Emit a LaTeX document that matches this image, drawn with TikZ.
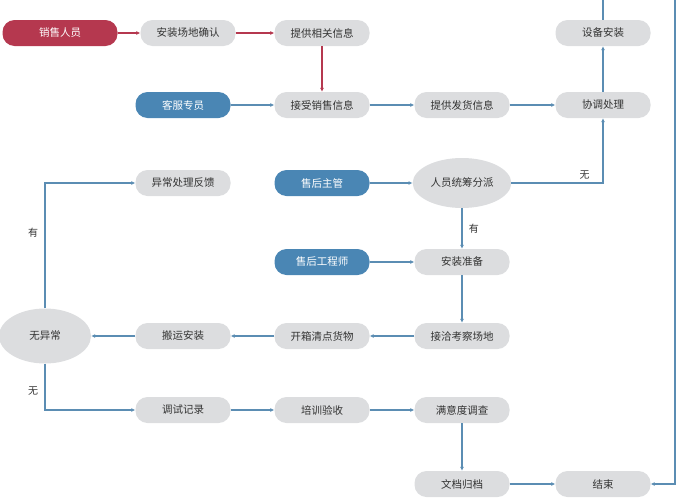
\documentclass[tikz,border=0pt]{standalone}
\usepackage{fontspec}
\setmainfont{Noto Sans CJK SC}
\usetikzlibrary{arrows.meta}
\usetikzlibrary{shapes.geometric}
\definecolor{redbox}{HTML}{B5384F}
\definecolor{bluebox}{HTML}{4A86B4}
\definecolor{graybox}{HTML}{DCDDDF}
\definecolor{flow}{HTML}{5B8DB3}
\tikzset{
  step box/.style={rounded corners=12pt,fill=graybox,minimum width=95pt,minimum height=26pt,font=\fontsize{10.5}{12}\selectfont,text=black!80},
  role/.style={step box,fill=bluebox,text=white},
  seller/.style={step box,fill=redbox,text=white,minimum width=115pt},
  choice/.style={ellipse,fill=graybox,font=\fontsize{10.5}{12}\selectfont,text=black!80},
  go/.style={-{Latex[length=4pt,width=4pt]},flow,line width=1.3pt},
  gored/.style={go,redbox},
  lab/.style={font=\fontsize{10}{12}\selectfont,text=black!80}
}
\begin{document}
\begin{tikzpicture}[x=1pt,y=-1pt]
  \useasboundingbox (0,0) rectangle (677,498);
  \clip (0,0) rectangle (677,498);
  \node[seller] (sales) at (60,33) {销售人员};
  \node[step box] (site) at (188,33) {安装场地确认};
  \node[step box] (info) at (322,33) {提供相关信息};
  \node[step box] (install) at (603,33) {设备安装};
  \node[role] (service) at (183,105) {客服专员};
  \node[step box] (accept) at (322,105) {接受销售信息};
  \node[step box] (ship) at (462,105) {提供发货信息};
  \node[step box] (coord) at (603,105) {协调处理};
  \node[step box] (feedback) at (183,183) {异常处理反馈};
  \node[role] (manager) at (322,183) {售后主管};
  \node[choice,minimum width=92pt,minimum height=50pt] (assign) at (462,183) {人员统筹分派};
  \node[role] (engineer) at (322,262) {售后工程师};
  \node[step box] (prep) at (462,262) {安装准备};
  \node[choice,minimum width=92pt,minimum height=55pt] (check) at (45,336) {无异常};
  \node[step box] (move) at (183,336) {搬运安装};
  \node[step box] (unpack) at (322,336) {开箱清点货物};
  \node[step box] (survey) at (462,336) {接洽考察场地};
  \node[step box] (debug) at (183,410) {调试记录};
  \node[step box] (train) at (322,410) {培训验收};
  \node[step box] (poll) at (462,410) {满意度调查};
  \node[step box] (archive) at (462,484) {文档归档};
  \node[step box] (done) at (603,484) {结束};

  % red path
  \draw[gored] (sales) -- (site);
  \draw[gored] (site) -- (info);
  \draw[gored] (info) -- (accept);
  % blue paths
  \draw[go] (service) -- (accept);
  \draw[go] (accept) -- (ship);
  \draw[go] (ship) -- (coord);
  \draw[go] (coord) -- (install);
  \draw[go] (manager) -- (assign);
  \draw[go] (assign.east) -| node[lab,pos=.4,above]{无} (coord.south);
  \draw[go] (assign) -- node[lab,right=3pt]{有} (prep);
  \draw[go] (engineer) -- (prep);
  \draw[go] (prep) -- (survey);
  \draw[go] (survey) -- (unpack);
  \draw[go] (unpack) -- (move);
  \draw[go] (move) -- (check);
  \draw[go] (check.north) |- node[lab,pos=.3,left=3pt]{有} (feedback);
  \draw[go] (check.south) |- node[lab,pos=.3,left=3pt]{无} (debug);
  \draw[go] (debug) -- (train);
  \draw[go] (train) -- (poll);
  \draw[go] (poll) -- (archive);
  \draw[go] (archive) -- (done);
  \coordinate (top) at (675,-2);
  \draw[go] (install.north) |- (top) |- (done.east);
\end{tikzpicture}
\end{document}
